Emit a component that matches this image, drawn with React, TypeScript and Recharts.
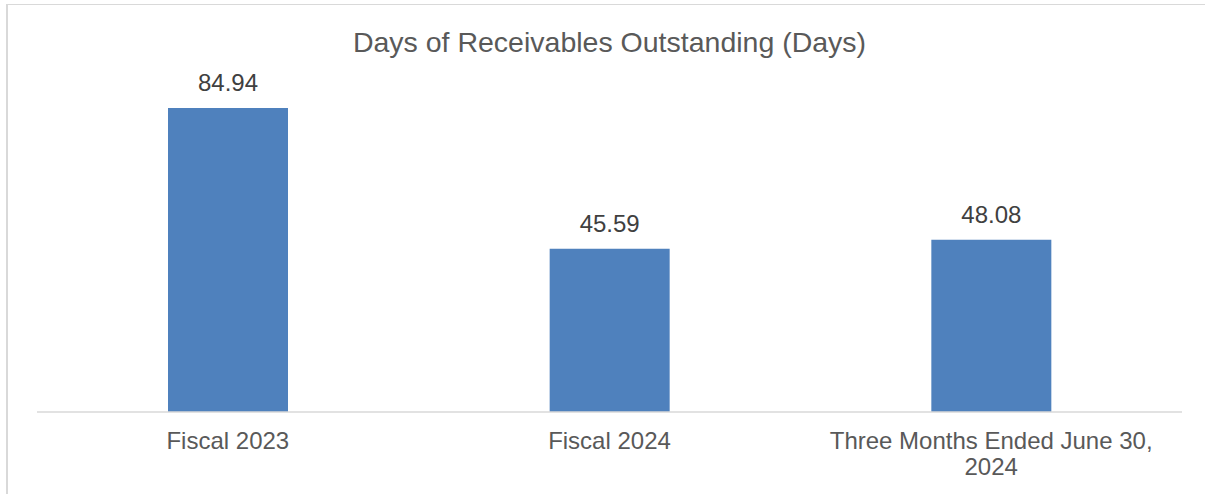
import { BarChart, Bar, XAxis, YAxis, LabelList } from "recharts";

const categories = ["Fiscal 2023", "Fiscal 2024", "Three Months Ended June 30, 2024"];
const daysOutstanding = [84.94, 45.59, 48.08];

const data = categories.map((name, i) => ({ name, value: daysOutstanding[i] }));

const FONT = '"Liberation Sans", Arial, sans-serif';

// wrap a label into lines no wider than maxWidth, measured with a canvas
function wrapLabel(text: string, maxWidth: number, font: string) {
  const ctx = document.createElement("canvas").getContext("2d");
  if (!ctx) return [text];
  ctx.font = font;
  const lines: string[] = [];
  let line = "";
  for (const word of text.split(" ")) {
    const next = line ? line + " " + word : word;
    if (line && ctx.measureText(next).width > maxWidth) {
      lines.push(line);
      line = word;
    } else {
      line = next;
    }
  }
  if (line) lines.push(line);
  return lines;
}

function CategoryTick(props: any) {
  const { x, y, payload } = props;
  const lines = wrapLabel(String(payload.value), 350, `24px ${FONT}`);
  return (
    <text x={x} y={y + 37} textAnchor="middle" fill="#595959" fontSize={24} fontFamily={FONT}>
      {lines.map((l, i) => (
        <tspan key={i} x={x} dy={i === 0 ? 0 : 26}>
          {l}
        </tspan>
      ))}
    </text>
  );
}

export default function App() {
  return (
    <div style={{ position: "absolute", left: 0, top: 0, width: 1205, height: 494, overflow: "hidden", background: "#fff" }}>
      <div
        style={{
          position: "absolute",
          left: 6,
          top: 4,
          width: 1240,
          height: 520,
          borderLeft: "2px solid #d9d9d9",
          borderTop: "1px solid #d9d9d9",
        }}
      />
      <div
        style={{
          position: "absolute",
          left: 37,
          width: 1145,
          top: 28,
          textAlign: "center",
          fontFamily: FONT,
          fontSize: 28.5,
          lineHeight: "28px",
          color: "#595959",
          whiteSpace: "nowrap",
        }}
      >
        Days of Receivables Outstanding (Days)
      </div>
      <div style={{ position: "absolute", left: 0, top: 0 }}>
        <BarChart width={1205} height={494} data={data} margin={{ top: 54, right: 23, left: 37, bottom: 0 }}>
          <XAxis
            dataKey="name"
            height={82}
            tickLine={false}
            tickSize={0}
            tickMargin={0}
            axisLine={{ stroke: "#d9d9d9", strokeWidth: 1.5 }}
            tick={<CategoryTick />}
            interval={0}
          />
          <YAxis hide domain={[0, 100]} />
          <Bar dataKey="value" fill="#4F81BD" barSize={120} isAnimationActive={false}>
            <LabelList
              dataKey="value"
              position="top"
              offset={17}
              fill="#404040"
              fontSize={24}
              fontFamily={FONT}
            />
          </Bar>
        </BarChart>
      </div>
    </div>
  );
}
